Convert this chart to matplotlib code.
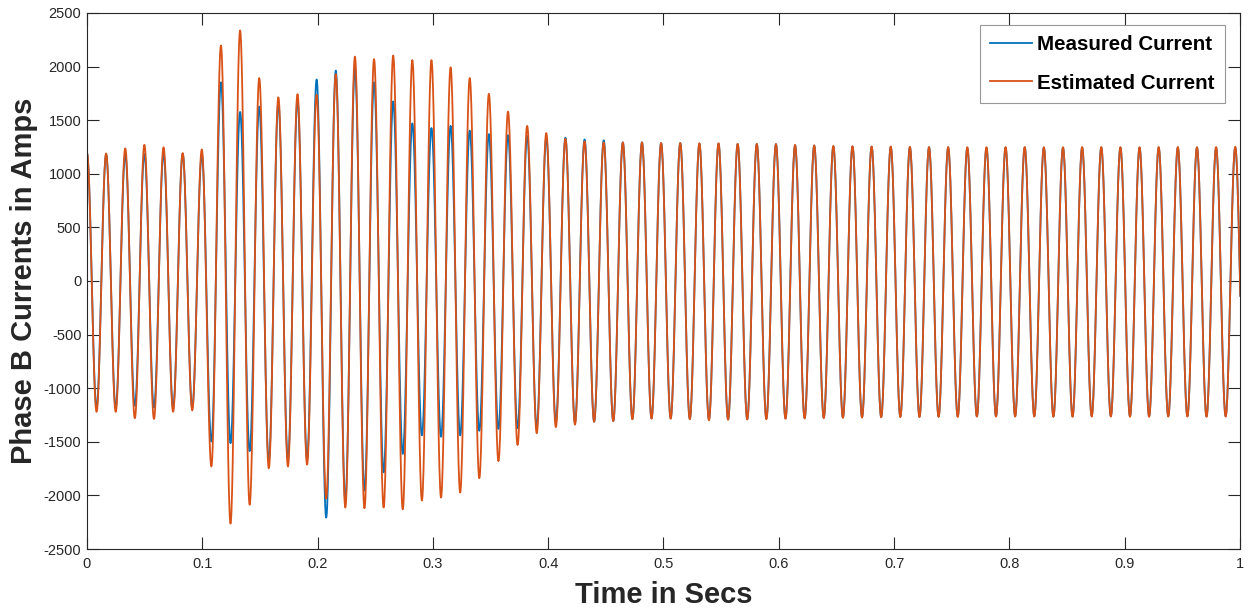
import numpy as np
import matplotlib
matplotlib.use('Agg')
import matplotlib.pyplot as plt

plt.rcParams['font.family'] = ['Liberation Sans', 'DejaVu Sans']
plt.rcParams['axes.unicode_minus'] = False

# Line frequency of the recorded waveform (Hz)
freq = 60.25

# Positive peaks of each cycle (A), cycle k peaks at t = k / freq
measured_peaks = [1190, 1180, 1180, 1185, 1187, 1187, 1180,
                  1853, 1577, 1627, 1660, 1687, 1880, 1963, 1980, 1853, 1675,
                  1470, 1427, 1447, 1403, 1370, 1360, 1353, 1337, 1337, 1320,
                  1313, 1293, 1293, 1287, 1287, 1280,
                  1280, 1277, 1277, 1277, 1265, 1263, 1255, 1253, 1253, 1250,
                  1247, 1247, 1245, 1242, 1240, 1242, 1245, 1245, 1243, 1243,
                  1245, 1245, 1243, 1243, 1245, 1245, 1243, 1245]
# Negative peaks, cycle k bottoms out at t = (k + 0.5) / freq
measured_troughs = [-1180, -1180, -1163, -1180, -1180, -1180,
                    -1497, -1513, -1587, -1680, -1663, -1663, -2207, -2047, -1953,
                    -1785, -1613, -1440, -1453, -1440, -1397, -1380, -1373, -1363,
                    -1313, -1320, -1313, -1307, -1287, -1280, -1280, -1285,
                    -1290, -1290, -1287, -1283, -1280, -1277, -1275, -1272, -1270,
                    -1268, -1265, -1265, -1263, -1263, -1262, -1262, -1260, -1260,
                    -1262, -1262, -1260, -1260, -1262, -1262, -1260, -1260, -1262,
                    -1260, -1260]

estimated_peaks = [1195, 1190, 1237, 1270, 1247, 1193, 1227,
                   2197, 2337, 1893, 1713, 1743, 1737, 1930, 2093, 2070, 2103,
                   2060, 2060, 1993, 1893, 1747, 1580, 1447, 1380, 1327, 1303,
                   1293, 1293, 1293, 1287, 1287, 1285,
                   1285, 1280, 1280, 1278, 1270, 1265, 1260, 1258, 1255, 1255,
                   1252, 1250, 1250, 1248, 1248, 1250, 1250, 1248, 1248, 1250,
                   1250, 1248, 1248, 1250, 1250, 1248, 1250, 1252]
estimated_troughs = [-1220, -1220, -1280, -1287, -1220, -1207,
                     -1730, -2263, -2087, -1747, -1730, -1713, -2030, -2113, -2120,
                     -2113, -2130, -2047, -2020, -1973, -1840, -1680, -1530, -1420,
                     -1363, -1340, -1313, -1307, -1290, -1285, -1285, -1290,
                     -1300, -1295, -1292, -1290, -1285, -1283, -1280, -1277, -1275,
                     -1272, -1270, -1270, -1268, -1268, -1265, -1265, -1265, -1265,
                     -1267, -1267, -1265, -1265, -1267, -1267, -1265, -1265, -1267,
                     -1265, -1265]

series_labels = ['Measured Current', 'Estimated Current']
x_ticks = [0, 0.1, 0.2, 0.3, 0.4, 0.5, 0.6, 0.7, 0.8, 0.9, 1]
y_ticks = [-2500, -2000, -1500, -1000, -500, 0, 500, 1000, 1500, 2000, 2500]


def build_wave(peaks, troughs, f, n_seg=30):
    # alternate peak / trough and join them with half-cosine swings
    ext = np.empty(len(peaks) + len(troughs))
    ext[0::2] = peaks
    ext[1::2] = troughs
    t_ext = np.arange(len(ext)) / (2 * f)
    t_all, y_all = [], []
    for i in range(len(ext) - 1):
        u = np.linspace(0, 1, n_seg, endpoint=False)
        mid = (ext[i] + ext[i + 1]) / 2
        half = (ext[i] - ext[i + 1]) / 2
        t_all.append(t_ext[i] + u * (t_ext[i + 1] - t_ext[i]))
        y_all.append(mid + half * np.cos(np.pi * u))
    return np.concatenate(t_all), np.concatenate(y_all)


t_meas, i_meas = build_wave(measured_peaks, measured_troughs, freq)
t_est, i_est = build_wave(estimated_peaks, estimated_troughs, freq)

fig = plt.figure(figsize=(12.48, 6.13), dpi=100)
ax = fig.add_axes([0.0697, 0.1044, 0.9239, 0.8744])

ax.plot(t_meas, i_meas, color='#0072BD', lw=1.3, label=series_labels[0])
ax.plot(t_est, i_est, color='#D95319', lw=1.3, label=series_labels[1])

ax.set_xlim(0, 1)
ax.set_ylim(-2500, 2500)
ax.set_xticks(x_ticks)
ax.set_xticklabels([f'{v:g}' for v in x_ticks])
ax.set_yticks(y_ticks)
ax.tick_params(direction='in', length=8.5, width=0.8, colors='#262626',
               labelsize=10.5, top=True, right=True)
ax.tick_params(axis='y', pad=4)
ax.tick_params(axis='x', pad=6)
for s in ax.spines.values():
    s.set_color('#262626')
    s.set_linewidth(0.8)

ax.set_xlabel('Time in Secs', fontsize=21, fontweight='bold', color='#262626', labelpad=7)
ax.set_ylabel('Phase B Currents in Amps', fontsize=21, fontweight='bold', color='#262626', labelpad=4)

leg = ax.legend(loc='upper right', bbox_to_anchor=(0.987, 0.978),
                prop={'weight': 'bold', 'size': 14.8}, fancybox=False,
                edgecolor='#7f7f7f', handlelength=2.05, handletextpad=0.25,
                labelspacing=0.95, borderpad=0.5, borderaxespad=0)
leg.get_frame().set_linewidth(0.8)

fig.savefig('out.png', dpi=100)
